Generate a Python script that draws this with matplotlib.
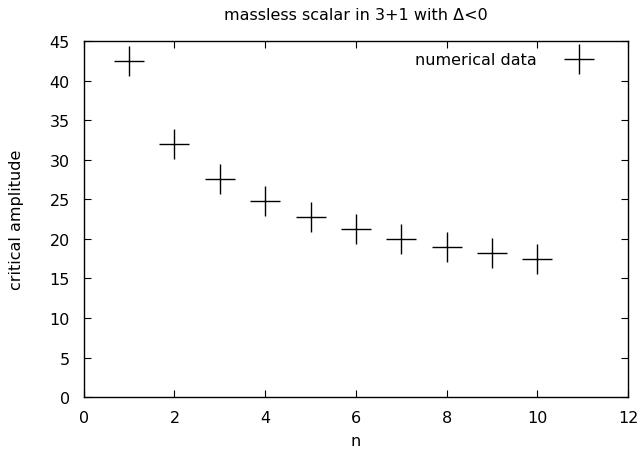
import numpy as np
import matplotlib.pyplot as plt

plt.rcParams['font.family'] = ['DejaVu Sans']
plt.rcParams['font.size'] = 11.5

n = [1, 2, 3, 4, 5, 6, 7, 8, 9, 10]
amplitude = [42.45, 31.97, 27.59, 24.77, 22.75, 21.24, 20.01, 19.0, 18.16, 17.45]

fig = plt.figure(figsize=(6.39, 4.52), dpi=100)
ax = fig.add_axes([0.131, 0.119, 0.852, 0.788])

ax.plot(n, amplitude, linestyle='none', marker='+', markersize=21,
        markeredgewidth=1.0, color='black', label='numerical data')

ax.set_xlim(0, 12)
ax.set_ylim(0, 45)
ax.set_xticks(np.arange(0, 13, 2))
ax.set_yticks(np.arange(0, 46, 5))
ax.tick_params(direction='in', top=True, right=True, length=5, width=0.8)
ax.tick_params(axis='y', pad=10)
ax.tick_params(axis='x', pad=9)
for s in ax.spines.values():
    s.set_linewidth(1.0)

ax.set_xlabel('n', labelpad=6)
ax.set_ylabel('critical amplitude', labelpad=18)
ax.set_title('massless scalar in 3+1 with Δ<0', fontsize=11.5, pad=16)

# key sits left of the top-right corner, sample to the right of the text
ax.legend(loc='upper right', bbox_to_anchor=(0.954, 0.986), frameon=False,
          markerfirst=False, handlelength=2.2, borderaxespad=0,
          handletextpad=1.55)

fig.savefig('out.png', dpi=100)
